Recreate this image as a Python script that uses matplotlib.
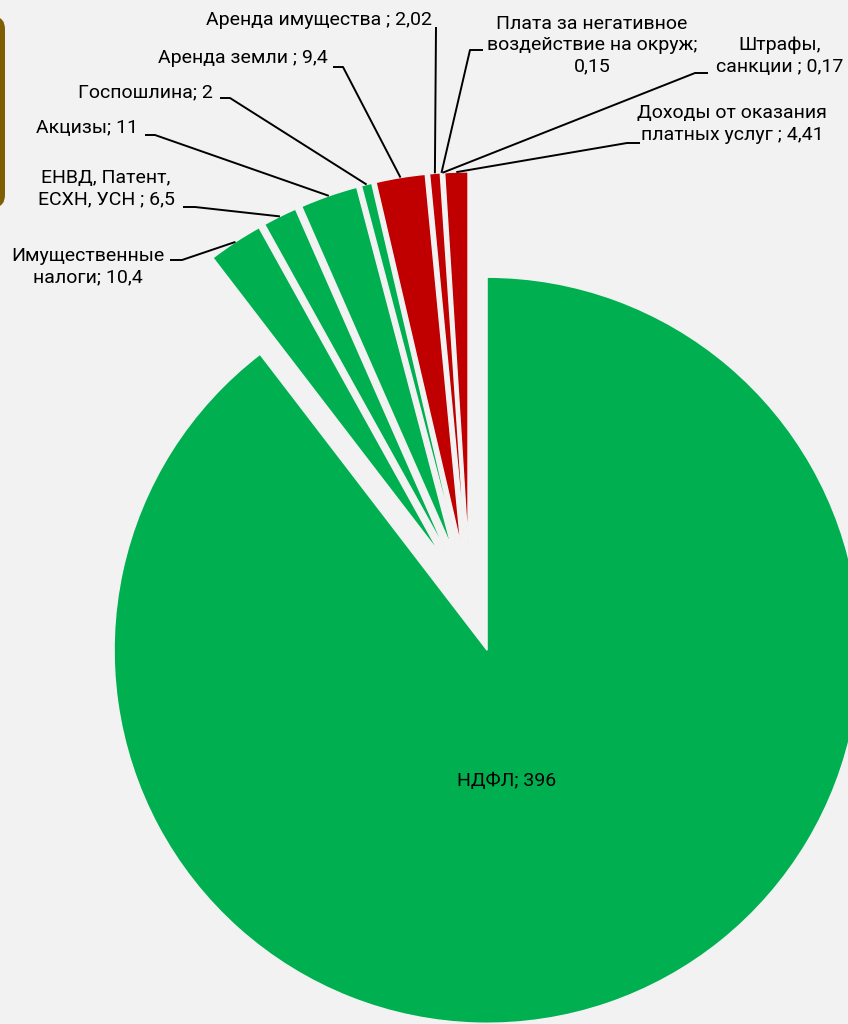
import numpy as np
import matplotlib
matplotlib.use("Agg")
import matplotlib.pyplot as plt
from matplotlib.patches import FancyBboxPatch

plt.rcParams['font.family'] = ['Roboto', 'DejaVu Sans']

# data
categories = ["НДФЛ", "Имущественные налоги", "ЕНВД, Патент, ЕСХН, УСН", "Акцизы",
              "Госпошлина", "Аренда земли", "Аренда имущества",
              "Плата за негативное воздействие на окруж", "Штрафы, санкции",
              "Доходы от оказания платных услуг"]
values = [396, 10.4, 6.5, 11, 2, 9.4, 2.02, 0.15, 0.17, 4.41]
labels = ["НДФЛ; 396", "Имущественные\nналоги; 10,4", "ЕНВД, Патент,\nЕСХН, УСН ; 6,5",
          "Акцизы; 11", "Госпошлина; 2", "Аренда земли ; 9,4", "Аренда имущества ; 2,02",
          "Плата за негативное\nвоздействие на окруж;\n0,15", "Штрафы,\nсанкции ; 0,17",
          "Доходы от оказания\nплатных услуг ; 4,41"]
green = "#00B050"
red = "#C00000"
colors = [green] * 5 + [red] * 5

BG = "#F2F2F2"
W, H = 848, 1024
CX, CY, R = 469.7, 599.0, 373.0   # pie centre / radius in pixels
FS = 14


def px(x, y):
    # pixel position -> data coords
    return (x - CX) / R, (CY - y) / R


fig = plt.figure(figsize=(W / 100, H / 100), dpi=100, facecolor=BG)
ax = fig.add_axes([0, 0, 1, 1])
ax.set_facecolor(BG)

wedges, _ = ax.pie(values, colors=colors, startangle=90, counterclock=False,
                   explode=[0.145] * len(values), radius=1,
                   wedgeprops=dict(edgecolor=BG, linewidth=1.0))
ax.set_xlim(-CX / R, (W - CX) / R)
ax.set_ylim(-(H - CY) / R, CY / R)
ax.axis("off")

# label layout: (text x, text y, ha, stub start, stub end) in pixels
layout = {
    1: (88, 267, "center", (170, 260), (182, 260)),
    2: (106, 189, "center", (183, 207), (195, 207)),
    3: (138, 128, "right", (145, 135), (155, 135)),
    4: (213, 92, "right", (220, 98), (230, 98)),
    5: (328, 58, "right", (333, 67), (343, 67)),
    6: (432, 20, "right", (436, 27), (436, 27)),
    7: (592, 45, "center", (483, 50), (470, 50)),
    8: (780, 56, "center", (708, 73), (695, 73)),
    9: (732, 124, "center", (640, 143), (627, 143)),
}

for i, (tx, ty, ha, s0, s1) in layout.items():
    x, y = px(tx, ty)
    ax.text(x, y, labels[i], ha=ha, va="center", fontsize=FS,
            color="#000000", linespacing=1.22)
    w = wedges[i]
    mid = np.deg2rad((w.theta1 + w.theta2) / 2)
    ex = w.center[0] + w.r * np.cos(mid)
    ey = w.center[1] + w.r * np.sin(mid)
    a = px(*s0)
    b = px(*s1)
    ax.plot([a[0], b[0], ex], [a[1], b[1], ey], color="black", lw=1.4,
            solid_capstyle="butt")

x, y = px(507, 781)
ax.text(x, y, labels[0], ha="center", va="center", fontsize=FS, color="black")

# piece of a neighbouring frame cut off at the left edge
fig.patches.append(FancyBboxPatch((-60 / W, 1 - 207 / H), 65 / W, 190 / H,
                                  boxstyle="round,pad=0,rounding_size=0.012",
                                  transform=fig.transFigure, facecolor="#7F6000",
                                  edgecolor="none"))

fig.savefig("out.png", dpi=100, facecolor=BG)
